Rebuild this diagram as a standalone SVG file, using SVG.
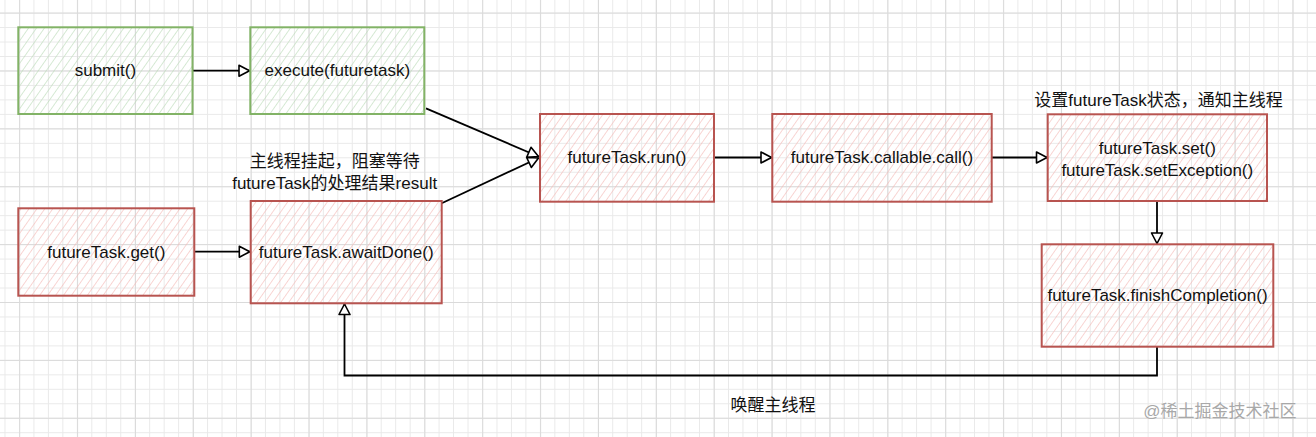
<svg xmlns="http://www.w3.org/2000/svg" width="1316" height="437" viewBox="0 0 1316 437">
<style>
  text { font-family: "Liberation Sans", Arial, "Noto Sans CJK SC", sans-serif; font-size: 17px; fill: #111; text-anchor: middle; dominant-baseline: central; }
  .cjk { font-family: "Liberation Sans", "Noto Sans CJK SC", sans-serif; }
  .green { fill: url(#hatchGreen); stroke: #82b366; stroke-width: 2; }
  .red { fill: url(#hatchRed); stroke: #b85450; stroke-width: 2; }
  .edge { fill: none; stroke: #000; stroke-width: 1.8; marker-end: url(#arrow); }
  .wm { fill: #a8a8a8; font-size: 17px; }
</style>
<defs>
  <pattern id="gridMinor" patternUnits="userSpaceOnUse" x="4.5" y="12.6" width="14.47" height="14.47">
    <path d="M0 0.5 H14.47 M0.5 0 V14.47" stroke="#e9e9e9" stroke-width="1" fill="none"/>
  </pattern>
  <pattern id="gridMajor" patternUnits="userSpaceOnUse" x="19.2" y="12.6" width="57.88" height="57.88">
    <path d="M0 0.5 H57.88 M0.5 0 V57.88" stroke="#dadada" stroke-width="1" fill="none"/>
  </pattern>
  <pattern id="hatchGreen" patternUnits="userSpaceOnUse" width="6.5" height="6.5" patternTransform="rotate(35)">
    <line x1="0" y1="0" x2="0" y2="6.5" stroke="#bcdbb9" stroke-width="1.2"/>
  </pattern>
  <pattern id="hatchRed" patternUnits="userSpaceOnUse" width="6.5" height="6.5" patternTransform="rotate(35)">
    <line x1="0" y1="0" x2="0" y2="6.5" stroke="#f4bab8" stroke-width="1.2"/>
  </pattern>
  <marker id="arrow" markerUnits="userSpaceOnUse" markerWidth="16" markerHeight="14" refX="12" refY="7" orient="auto">
    <path d="M1.5 1.5 L12 7 L1.5 12.5 Z" fill="#fff" stroke="#000" stroke-width="1.6" stroke-linejoin="round"/>
  </marker>
</defs>

<rect x="0" y="0" width="1316" height="437" fill="#ffffff"/>
<rect x="0" y="0" width="1316" height="437" fill="url(#gridMinor)"/>
<rect x="0" y="0" width="1316" height="437" fill="url(#gridMajor)"/>

<g id="connectors">
  <path class="edge" d="M192.5 70.7 H249.5"/>
  <path class="edge" d="M426 108.3 L538.5 156.5"/>
  <path class="edge" d="M441.7 203.3 L538.5 158"/>
  <path class="edge" d="M194.3 251.7 H249.8"/>
  <path class="edge" d="M714 157.5 H771.5"/>
  <path class="edge" d="M991.7 157.5 H1047"/>
  <path class="edge" d="M1157 201 V243.5"/>
  <path class="edge" d="M1157 346.7 V375.5 H344.5 V304"/>
</g>

<g id="submit">
  <rect class="green" x="18.3" y="27.3" width="174.2" height="86.7"/>
  <text x="105.4" y="70.7">submit()</text>
</g>
<g id="execute">
  <rect class="green" x="250.3" y="27.3" width="174" height="86.7"/>
  <text x="337.3" y="70.7">execute(futuretask)</text>
</g>
<g id="futureTaskGet">
  <rect class="red" x="18.3" y="208.3" width="176" height="87.4"/>
  <text x="106.3" y="252">futureTask.get()</text>
</g>
<g id="futureTaskAwaitDone">
  <rect class="red" x="250.7" y="201" width="191" height="102.3"/>
  <text x="346.2" y="252">futureTask.awaitDone()</text>
</g>
<g id="awaitLabel">
  <text class="cjk" x="334.7" y="161.7">主线程挂起，阻塞等待</text>
  <text class="cjk" x="334.7" y="183.3">futureTask的处理结果result</text>
</g>
<g id="futureTaskRun">
  <rect class="red" x="540" y="114" width="174" height="87.7"/>
  <text x="627" y="157.8">futureTask.run()</text>
</g>
<g id="futureTaskCallableCall">
  <rect class="red" x="772.3" y="114" width="219.4" height="87.7"/>
  <text x="882" y="157.8">futureTask.callable.call()</text>
</g>
<g id="futureTaskSet">
  <rect class="red" x="1047.7" y="114.3" width="219.3" height="86.7"/>
  <text x="1157.3" y="148.3">futureTask.set()</text>
  <text x="1157.3" y="170">futureTask.setException()</text>
</g>
<g id="setLabel">
  <text class="cjk" x="1158.5" y="100">设置futureTask状态，通知主线程</text>
</g>
<g id="futureTaskFinishCompletion">
  <rect class="red" x="1041.7" y="244.3" width="231.6" height="102.4"/>
  <text x="1157.5" y="295.5">futureTask.finishCompletion()</text>
</g>
<g id="wakeLabel">
  <text class="cjk" x="773" y="405">唤醒主线程</text>
</g>
<text class="cjk wm" x="1220" y="411.7">@稀土掘金技术社区</text>
</svg>
